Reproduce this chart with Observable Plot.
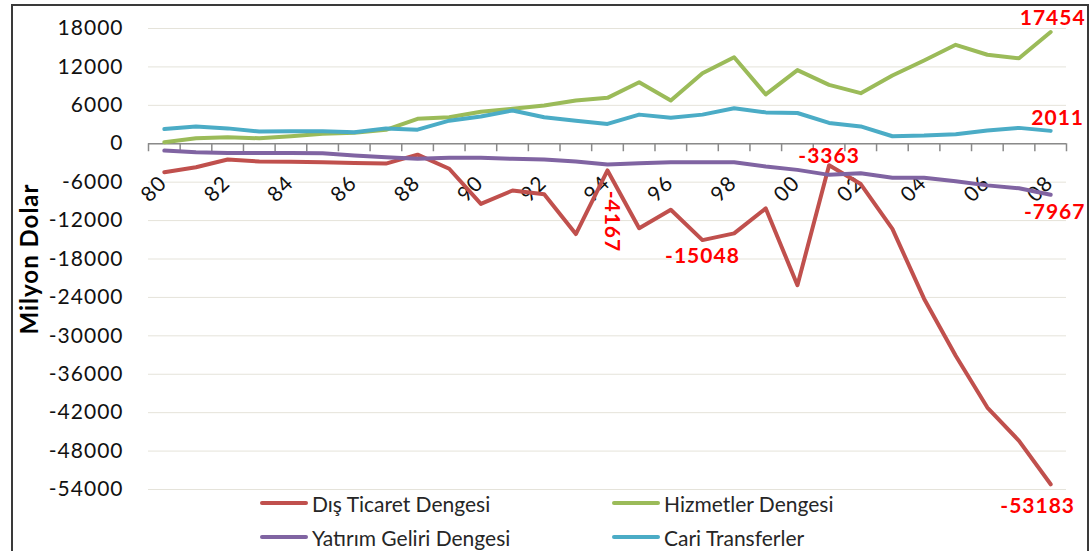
<!DOCTYPE html>
<html>
<head>
<meta charset="utf-8">
<script src="https://cdn.jsdelivr.net/npm/d3@7"></script>
<script src="https://cdn.jsdelivr.net/npm/@observablehq/plot@0.6"></script>
<style>
  html, body { margin: 0; padding: 0; background: #fff; }
  #wrap { position: relative; width: 1090px; height: 551px; overflow: hidden; font-family: Lato, "Open Sans", sans-serif; }
  #wrap svg { position: absolute; left: 0; top: 0; }
  #wrap svg text { letter-spacing: 1px; }
  #frame { position: absolute; left: 11px; top: 4px; width: 1078px; height: 600px; border: 2px solid #3a3a3a; box-sizing: border-box; pointer-events: none; }
  .lg { position: absolute; display: flex; align-items: center; height: 24px; font-size: 21px; color: #262626; white-space: nowrap; }
  .lg .sw { display: inline-block; width: 48px; height: 4px; margin-right: 4px; border-radius: 2px; }
</style>
</head>
<body>
<div id="wrap"><div id="frame"></div></div>
<script>
// Yıllar (1980–2008) ve eksen etiketleri
const years = [1980, 1981, 1982, 1983, 1984, 1985, 1986, 1987, 1988, 1989,
               1990, 1991, 1992, 1993, 1994, 1995, 1996, 1997, 1998, 1999,
               2000, 2001, 2002, 2003, 2004, 2005, 2006, 2007, 2008];
const xTickYears = [1980, 1982, 1984, 1986, 1988, 1990, 1992, 1994, 1996, 1998, 2000, 2002, 2004, 2006, 2008];
const xTickLabels = ["80", "82", "84", "86", "88", "90", "92", "94", "96", "98", "00", "02", "04", "06", "08"];
const yTicks = [18000, 12000, 6000, 0, -6000, -12000, -18000, -24000, -30000, -36000, -42000, -48000, -54000];

// Seriler (milyon dolar)
const seriesNames = ["Dış Ticaret Dengesi", "Hizmetler Dengesi", "Yatırım Geliri Dengesi", "Cari Transferler"];
const seriesColors = ["#C0504D", "#9BBB59", "#8064A2", "#4BACC6"];

const disTicaret = [-4450, -3670, -2470, -2780, -2800, -2900, -3000, -3100, -1700, -3900,
                    -9400, -7300, -7900, -14100, -4167, -13200, -10300, -15048, -14000, -10100,
                    -22100, -3363, -6300, -13300, -24200, -33100, -41200, -46400, -53183];
const hizmetler = [230, 860, 1000, 860, 1170, 1550, 1700, 2170, 3900, 4150,
                   5000, 5450, 5970, 6750, 7170, 9600, 6750, 11000, 13500, 7700,
                   11500, 9200, 7900, 10650, 13000, 15450, 13900, 13350, 17454];
const yatirimGeliri = [-1060, -1330, -1430, -1430, -1430, -1500, -1840, -2100, -2360, -2200,
                       -2200, -2360, -2470, -2780, -3250, -3040, -2880, -2880, -2880, -3560,
                       -4080, -4860, -4600, -5300, -5300, -5850, -6500, -6950, -7967];
const cariTransferler = [2300, 2700, 2400, 1900, 1950, 1950, 1800, 2400, 2200, 3600,
                         4250, 5200, 4150, 3600, 3100, 4550, 4050, 4550, 5550, 4900,
                         4800, 3250, 2700, 1170, 1280, 1500, 2060, 2480, 2011];

const seriesValues = [disTicaret, hizmetler, yatirimGeliri, cariTransferler];
const rows = seriesNames.flatMap((name, k) =>
  seriesValues[k].map((v, i) => ({series: name, year: years[i], value: v})));

// Kategori sınırları: tick işaretleri kategoriler arasında
const edges = years.map(y => y - 0.5).concat([years[years.length - 1] + 0.5]);

const pick = (name, year) => rows.filter(d => d.series === name && d.year === year);
const labelStyle = {x: "year", y: "value", text: d => String(d.value), fill: "#FF0000",
                    fontWeight: "bold", fontSize: 21};

const chart = Plot.plot({
  width: 1090,
  height: 551,
  marginLeft: 148,
  marginRight: 24,
  marginTop: 28,
  marginBottom: 62,
  style: {fontFamily: "Lato, 'Open Sans', sans-serif", fontSize: "21px", color: "#111", background: "transparent"},
  x: {type: "linear", domain: [edges[0], edges[edges.length - 1]], axis: null},
  y: {domain: [-54000, 18000], axis: null},
  color: {domain: seriesNames, range: seriesColors},
  marks: [
    Plot.ruleY(yTicks, {stroke: "#e5e3da", strokeWidth: 1}),
    Plot.axisY(yTicks, {tickSize: 0, tickPadding: 25, tickFormat: d => String(d), fontSize: 21, label: null}),
    Plot.text(["Milyon Dolar"], {frameAnchor: "left", text: d => d, rotate: -90, dx: -118,
                                 textAnchor: "middle", fontWeight: "bold", fontSize: 24, fill: "#000"}),
    Plot.ruleY([0], {stroke: "#8a8a8a", strokeWidth: 1.5}),
    Plot.ruleX(edges, {x: d => d, y1: 0, y2: 0, insetBottom: -8, stroke: "#8a8a8a", strokeWidth: 1.5}),
    Plot.text(xTickYears, {x: d => d, y: 0, text: (d, i) => xTickLabels[i], rotate: -45,
                           textAnchor: "end", lineAnchor: "middle", dx: -1, dy: 36, fontSize: 21, fill: "#111"}),
    Plot.line(rows, {x: "year", y: "value", z: "series", stroke: "series", strokeWidth: 4,
                     strokeLinejoin: "round", strokeLinecap: "round"}),
    Plot.text(pick(seriesNames[0], 1994), {...labelStyle, rotate: 90, dx: 4, dy: 51}),
    Plot.text(pick(seriesNames[0], 1997), {...labelStyle, dy: 16}),
    Plot.text(pick(seriesNames[0], 2001), {...labelStyle, dy: -9}),
    Plot.text(pick(seriesNames[0], 2008), {...labelStyle, dx: -13, dy: 22}),
    Plot.text(pick(seriesNames[1], 2008), {...labelStyle, dx: 2, dy: -14}),
    Plot.text(pick(seriesNames[3], 2008), {...labelStyle, dx: 7, dy: -13}),
    Plot.text(pick(seriesNames[2], 2008), {...labelStyle, dx: 4, dy: 18})
  ]
});

const wrap = document.getElementById("wrap");
wrap.insertBefore(chart, wrap.firstChild);

// Lejant: iki sütun, iki satır
const legendPos = [[260, 491], [612, 491], [260, 525], [612, 525]];
const legendOrder = [0, 1, 2, 3];
legendOrder.forEach((k, j) => {
  const item = document.createElement("div");
  item.className = "lg";
  item.style.left = legendPos[j][0] + "px";
  item.style.top = legendPos[j][1] + "px";
  const sw = document.createElement("span");
  sw.className = "sw";
  sw.style.background = seriesColors[k];
  item.appendChild(sw);
  item.appendChild(document.createTextNode(seriesNames[k]));
  wrap.appendChild(item);
});
</script>
</body>
</html>
